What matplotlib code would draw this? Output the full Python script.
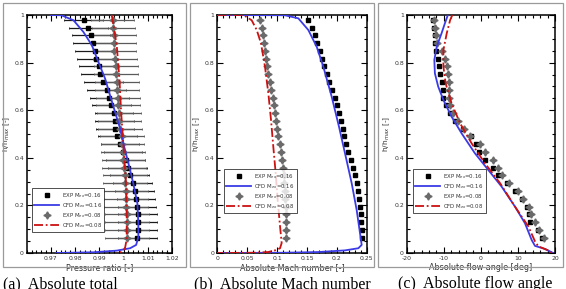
import matplotlib
matplotlib.use("Agg")
import matplotlib.pyplot as plt
from matplotlib.ticker import MultipleLocator, FixedLocator, FuncFormatter
from matplotlib.patches import Rectangle
from matplotlib.lines import Line2D

# ---------------- data ----------------
y_exp = [0.980, 0.947, 0.915, 0.882, 0.849, 0.817, 0.784, 0.751, 0.719, 0.686,
         0.653, 0.620, 0.588, 0.555, 0.522, 0.490, 0.457, 0.424, 0.392, 0.359,
         0.326, 0.294, 0.261, 0.228, 0.195, 0.163, 0.130, 0.097, 0.064]

# (a) pressure ratio
pr_exp16 = [0.9836, 0.9854, 0.9865, 0.9872, 0.9880, 0.9888, 0.9897, 0.9903, 0.9916, 0.9930,
            0.9941, 0.9950, 0.9961, 0.9963, 0.9965, 0.9974, 0.9985, 0.9998, 1.0008, 1.0017,
            1.0026, 1.0037, 1.0046, 1.0051, 1.0055, 1.0058, 1.0059, 1.0059, 1.0056]
pr_err16 = 0.0080
pr_exp08 = [0.9955, 0.9958, 0.9960, 0.9961, 0.9962, 0.9965, 0.9968, 0.9969, 0.9972, 0.9974,
            0.9976, 0.9977, 0.9980, 0.9983, 0.9986, 0.9993, 0.9995, 0.9997, 0.9999, 1.0002,
            1.0006, 1.0007, 1.0009, 1.0010, 1.0011, 1.0013, 1.0014, 1.0015, 1.0015]
pr_err08 = 0.0090
pr_cfd16_x = [0.9700, 0.9743, 0.9793, 0.9834, 0.9869, 0.9896, 0.9924, 0.9944, 0.9965, 0.9986,
              0.9999, 1.0020, 1.0040, 1.0057, 1.0061, 1.0061, 1.0052, 1.0027, 0.9972, 0.9875, 0.9720]
pr_cfd16_y = [1.000, 0.999, 0.978, 0.929, 0.873, 0.803, 0.732, 0.663, 0.592, 0.522,
              0.461, 0.377, 0.293, 0.209, 0.125, 0.068, 0.034, 0.020, 0.010, 0.003, 0.000]
pr_cfd08_x = [0.9951, 0.9958, 0.9972, 0.9983, 0.9990, 0.9999, 1.0009, 1.0013, 1.0013, 1.0006, 0.9992, 0.9972]
pr_cfd08_y = [1.000, 0.960, 0.870, 0.730, 0.590, 0.460, 0.310, 0.170, 0.060, 0.020, 0.005, 0.000]

# (b) Mach number
ma_exp16 = [0.1513, 0.1590, 0.1635, 0.1674, 0.1719, 0.1757, 0.1790, 0.1831, 0.1869, 0.1919,
            0.1970, 0.2008, 0.2042, 0.2070, 0.2098, 0.2125, 0.2154, 0.2192, 0.2232, 0.2276,
            0.2309, 0.2338, 0.2354, 0.2371, 0.2388, 0.2400, 0.2405, 0.2416, 0.2416]
ma_exp08 = [0.0714, 0.0742, 0.0760, 0.0776, 0.0793, 0.0810, 0.0831, 0.0854, 0.0876, 0.0899,
            0.0927, 0.0949, 0.0966, 0.0982, 0.1004, 0.1021, 0.1044, 0.1066, 0.1088, 0.1104,
            0.1116, 0.1121, 0.1133, 0.1138, 0.1145, 0.1145, 0.1150, 0.1150, 0.1150]
ma_cfd16_x = [0.000, 0.113, 0.1356, 0.1523, 0.1663, 0.1774, 0.1914, 0.2036, 0.2137, 0.2249,
              0.2332, 0.2388, 0.2416, 0.2360, 0.2137, 0.1690, 0.1100, 0.000]
ma_cfd16_y = [1.000, 0.999, 0.986, 0.937, 0.867, 0.783, 0.657, 0.531, 0.419, 0.293,
              0.181, 0.083, 0.034, 0.020, 0.011, 0.004, 0.001, 0.000]
ma_cfd08_x = [0.000, 0.0436, 0.0575, 0.0660, 0.0731, 0.0798, 0.0854, 0.0899, 0.0937, 0.0977,
              0.1010, 0.1050, 0.1077, 0.1050, 0.0965, 0.0850, 0.0600, 0.000]
ma_cfd08_y = [1.000, 1.000, 0.978, 0.937, 0.881, 0.783, 0.671, 0.559, 0.447, 0.335,
              0.223, 0.112, 0.042, 0.020, 0.011, 0.004, 0.001, 0.000]

# (c) flow angle
fa_exp16 = [-12.8, -12.6, -12.3, -12.3, -12.1, -11.5, -11.2, -11.0, -10.6, -10.3,
            -10.1, -9.4, -8.4, -7.0, -4.9, -2.7, -1.4, -0.6, 1.2, 3.3,
            4.7, 7.0, 9.2, 11.0, 12.5, 13.0, 13.3, 15.5, 16.6]
fa_exp08 = [-12.6, -12.3, -12.0, -11.8, -10.4, -9.7, -9.2, -8.9, -8.7, -8.6,
            -8.6, -8.2, -7.4, -6.2, -4.6, -2.8, -0.2, 1.0, 3.2, 4.5,
            5.6, 7.6, 9.9, 11.4, 12.9, 13.6, 14.6, 15.6, 17.0]
fa_cfd16_x = [-8.9, -9.7, -10.6, -11.9, -12.55, -12.4, -11.5, -10.1, -7.9, -5.2,
              -1.6, 2.0, 5.6, 9.2, 11.9, 13.7, 14.6, 17.3, 19.5]
fa_cfd16_y = [1.000, 0.965, 0.923, 0.867, 0.811, 0.755, 0.699, 0.643, 0.573, 0.503,
              0.419, 0.349, 0.279, 0.195, 0.125, 0.055, 0.030, 0.017, 0.000]
fa_cfd08_x = [-7.7, -8.3, -9.2, -10.1, -10.1, -9.5, -7.9, -5.6, -2.5, 1.1,
              5.2, 9.2, 12.8, 14.6, 15.5, 18.2, 19.2]
fa_cfd08_y = [1.000, 0.978, 0.923, 0.853, 0.783, 0.713, 0.629, 0.545, 0.461, 0.377,
              0.293, 0.195, 0.112, 0.049, 0.028, 0.011, 0.000]

y_ticks = [0, 0.2, 0.4, 0.6, 0.8, 1]
pr_ticks = [0.97, 0.98, 0.99, 1.00, 1.01, 1.02]
ma_ticks = [0, 0.05, 0.1, 0.15, 0.2, 0.25]
fa_ticks = [-20, -10, 0, 10, 20]

labels_leg = ["EXP M$_{ex}$=0.16", "CFD M$_{ex}$=0.16", "EXP M$_{ex}$=0.08", "CFD M$_{ex}$=0.08"]
captions = ["(a)  Absolute total", "(b)  Absolute Mach number", "(c)  Absolute flow angle"]

# ---------------- styling ----------------
BLUE = "#3a3ae6"
RED = "#cc1111"
GRAY = "#6a6a6a"
fs_tick = 4.4
fs_lab = 5.8

W, H = 566, 289
fig = plt.figure(figsize=(W / 100, H / 100), dpi=100)

def fx(px):
    return px / W

def fy(py):
    return 1 - py / H

# panel frames
for x0, x1 in [(3, 186), (190, 374), (378, 563)]:
    fig.patches.append(Rectangle((fx(x0), fy(267)), fx(x1) - fx(x0), fy(3) - fy(267),
                                 transform=fig.transFigure, fill=False,
                                 edgecolor="#9a9a9a", linewidth=0.9))

axes_px = [(26.7, 172.0), (217.3, 366.7), (406.7, 555.0)]
top_px, bot_px = 15, 253
axs = []
for (l, r) in axes_px:
    ax = fig.add_axes([fx(l), fy(bot_px), fx(r) - fx(l), fy(top_px) - fy(bot_px)])
    axs.append(ax)

fmt = FuncFormatter(lambda v, p: ("%g" % round(v, 4)))

def style(ax, xlim, xticks, xminor, xlabel):
    ax.set_xlim(*xlim)
    ax.set_ylim(0, 1)
    ax.xaxis.set_major_locator(FixedLocator(xticks))
    ax.xaxis.set_minor_locator(MultipleLocator(xminor))
    ax.yaxis.set_major_locator(FixedLocator(y_ticks))
    ax.yaxis.set_minor_locator(MultipleLocator(0.05))
    ax.xaxis.set_major_formatter(fmt)
    ax.yaxis.set_major_formatter(fmt)
    ax.tick_params(which="both", direction="in", top=True, right=True,
                   labelsize=fs_tick, width=0.8, pad=2, labelcolor="#333333")
    ax.tick_params(which="major", length=4)
    ax.tick_params(which="minor", length=2.2)
    for s in ax.spines.values():
        s.set_linewidth(1.1)
    ax.set_xlabel(xlabel, fontsize=fs_lab, labelpad=1.5, color="#333333")
    ax.set_ylabel("h/h$_{max}$ [-]", fontsize=fs_lab - 0.4, color="#333333")
    ax.yaxis.set_label_coords(-0.10, 0.5)

sq = dict(marker="s", markersize=3.4, color="black", linestyle="none")
st = dict(marker=(4, 1, 0), markersize=5.2, color=GRAY, linestyle="none")

# (a)
ax = axs[0]
ax.errorbar(pr_exp16, y_exp, xerr=pr_err16, fmt="none", ecolor="#1a1a1a", elinewidth=0.9,
            capsize=0.8, capthick=0.6, zorder=2)
ax.errorbar(pr_exp08, y_exp, xerr=pr_err08, fmt="none", ecolor="#5a5a5a", elinewidth=0.9,
            capsize=0.8, capthick=0.6, zorder=2)
ax.plot(pr_exp16, y_exp, zorder=3, **sq)
ax.plot(pr_exp08, y_exp, zorder=3, **st)
ax.plot(pr_cfd16_x, pr_cfd16_y, color=BLUE, lw=1.3, zorder=4)
ax.plot(pr_cfd08_x, pr_cfd08_y, color=RED, lw=1.3, ls=(0, (5, 1.5, 1, 1.5)), zorder=4)
style(ax, (0.96, 1.02), pr_ticks, 0.002, "Pressure ratio [-]")

# (b)
ax = axs[1]
ax.plot(ma_exp16, y_exp, zorder=3, **sq)
ax.plot(ma_exp08, y_exp, zorder=3, **st)
ax.plot(ma_cfd16_x, ma_cfd16_y, color=BLUE, lw=1.3, zorder=4)
ax.plot(ma_cfd08_x, ma_cfd08_y, color=RED, lw=1.3, ls=(0, (5, 1.5, 1, 1.5)), zorder=4)
style(ax, (0, 0.25), ma_ticks, 0.01, "Absolute Mach number [-]")

# (c)
ax = axs[2]
ax.plot(fa_exp16, y_exp, zorder=3, **sq)
ax.plot(fa_exp08, y_exp, zorder=3, **st)
ax.plot(fa_cfd16_x, fa_cfd16_y, color=BLUE, lw=1.3, zorder=4)
ax.plot(fa_cfd08_x, fa_cfd08_y, color=RED, lw=1.3, ls=(0, (5, 1.5, 1, 1.5)), zorder=4)
style(ax, (-20, 20), fa_ticks, 2, "Absolute flow angle [deg]")

handles = [Line2D([], [], **sq),
           Line2D([], [], color=BLUE, lw=1.3),
           Line2D([], [], **st),
           Line2D([], [], color=RED, lw=1.3, ls=(0, (5, 1.5, 1, 1.5)))]

leg_pos = [(0.034, 0.088), (0.045, 0.168), (0.042, 0.168)]
for ax, pos in zip(axs, leg_pos):
    leg = ax.legend(handles, labels_leg, loc="lower left", bbox_to_anchor=pos,
                    fontsize=3.9, frameon=True, fancybox=False, borderaxespad=0,
                    handlelength=4.6, handletextpad=0.5, labelspacing=0.2,
                    borderpad=0.45, markerfirst=True)
    leg.get_frame().set_edgecolor("black")
    leg.get_frame().set_linewidth(0.6)
    leg.set_zorder(10)
    for t in leg.get_texts():
        t.set_color("#333333")

# captions (partly cut at the bottom like the reference)
for x, cap in zip([3, 194, 398], captions):
    fig.text(fx(x), fy(276.5), cap, fontsize=11.5, family="Liberation Serif",
             ha="left", va="top")

fig.savefig("out.png", dpi=100)
